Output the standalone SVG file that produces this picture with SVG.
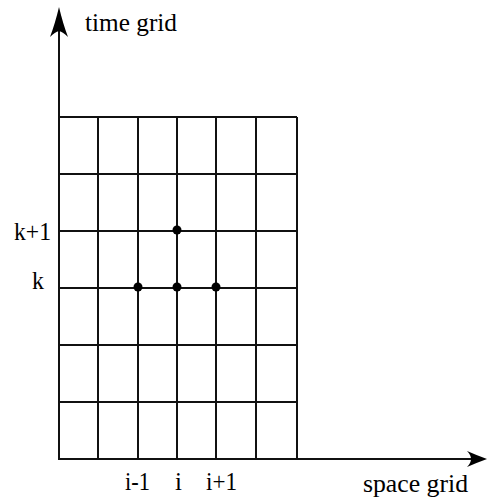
<svg xmlns="http://www.w3.org/2000/svg" width="487" height="501" viewBox="0 0 487 501">
<style>
.g{stroke:#111;stroke-width:2;fill:none}
.ax{stroke:#111;stroke-width:2;fill:none}
.t{font-family:"Liberation Serif","Times New Roman",serif;font-size:25px;fill:#000}
.d{fill:#000}
</style>
<rect width="487" height="501" fill="#fff"/>
<g id="connectors">
<path class="ax" d="M59,30 V459 H472"/>
<path d="M59,7 Q63,24 68,37 Q63,32 59,31 Q55,32 50,37 Q55,24 59,7 Z" fill="#000"/>
<path d="M487,459 Q476,463 467,467 Q471,463 471,459 Q471,455 467,451 Q476,455 487,459 Z" fill="#000"/>
</g>
<g id="grid">
<path class="g" d="M59,117 H297 M59,174 H297 M59,231 H297 M59,288 H297 M59,345 H297 M59,402 H297"/>
<path class="g" d="M98,117 V459 M138,117 V459 M177,117 V459 M216,117 V459 M256,117 V459 M297,117 V459"/>
</g>
<g id="points">
<circle class="d" cx="177" cy="230" r="4.5"/>
<circle class="d" cx="138" cy="287" r="4.5"/>
<circle class="d" cx="177" cy="287" r="4.5"/>
<circle class="d" cx="216" cy="287" r="4.5"/>
</g>
<g id="labels">
<text class="t" x="85" y="31" textLength="92" lengthAdjust="spacingAndGlyphs">time grid</text>
<text class="t" x="14" y="240" textLength="37" lengthAdjust="spacingAndGlyphs">k+1</text>
<text class="t" x="32" y="289" textLength="12" lengthAdjust="spacingAndGlyphs">k</text>
<text class="t" x="125" y="490" textLength="25" lengthAdjust="spacingAndGlyphs">i-1</text>
<text class="t" x="175" y="490">i</text>
<text class="t" x="206" y="490" textLength="31" lengthAdjust="spacingAndGlyphs">i+1</text>
<text class="t" x="363" y="492" textLength="105" lengthAdjust="spacingAndGlyphs">space grid</text>
</g>
</svg>
